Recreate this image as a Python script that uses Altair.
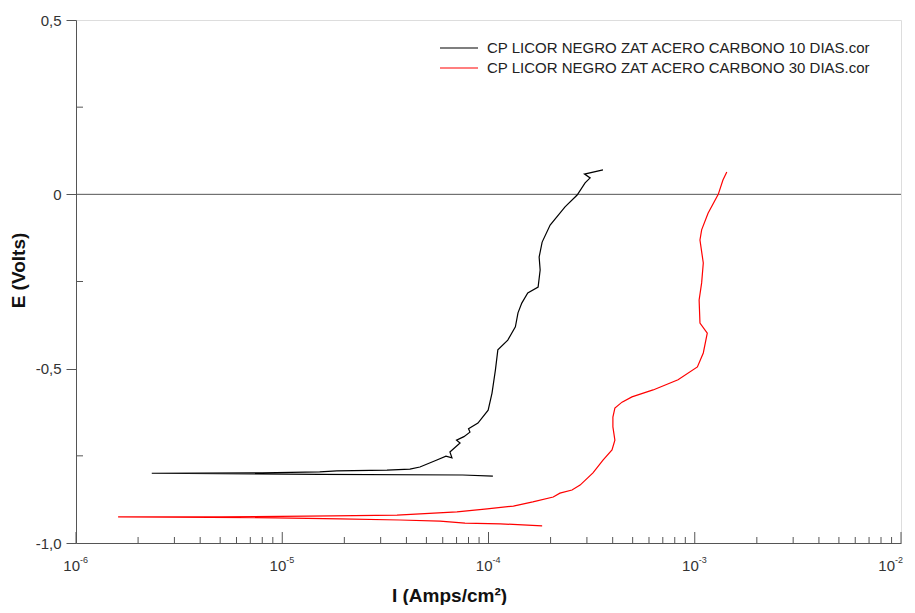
import altair as alt
import pandas as pd

# ---- data ----
series_names = ["CP LICOR NEGRO ZAT ACERO CARBONO 10 DIAS.cor",
                "CP LICOR NEGRO ZAT ACERO CARBONO 30 DIAS.cor"]
series_colors = ["#000000", "#ff0000"]

I10 = [1.05e-4, 7.5e-5, 1.52e-5, 2.33e-6, 7.98e-6, 1.52e-5, 1.84e-5, 3.22e-5,
       4.16e-5, 4.65e-5, 5.62e-5, 6.22e-5, 6.65e-5, 6.50e-5, 7.28e-5, 7.0e-5,
       7.6e-5, 8.13e-5, 8.0e-5, 8.89e-5, 9.96e-5, 1.04e-4, 1.08e-4, 1.11e-4,
       1.24e-4, 1.35e-4, 1.39e-4, 1.45e-4, 1.55e-4, 1.74e-4, 1.78e-4, 1.76e-4,
       1.82e-4, 1.99e-4, 2.35e-4, 2.69e-4, 2.94e-4, 3.11e-4, 2.92e-4, 3.59e-4]
E10 = [-0.808, -0.805, -0.803, -0.800, -0.799, -0.796, -0.793, -0.791,
       -0.788, -0.782, -0.762, -0.751, -0.756, -0.739, -0.713, -0.705,
       -0.695, -0.682, -0.672, -0.656, -0.619, -0.570, -0.504, -0.446,
       -0.418, -0.380, -0.340, -0.312, -0.283, -0.266, -0.217, -0.180,
       -0.137, -0.088, -0.036, -0.002, 0.033, 0.047, 0.058, 0.070]

I30 = [1.82e-4, 1.14e-4, 7.69e-5, 5.82e-5, 3.72e-5, 1.91e-5, 9.23e-6, 1.60e-6,
       4.99e-6, 1.76e-5, 3.60e-5, 7.03e-5, 9.85e-5, 1.32e-4, 1.64e-4, 2.06e-4,
       2.22e-4, 2.54e-4, 2.78e-4, 3.21e-4, 3.59e-4, 3.97e-4, 4.10e-4, 4.01e-4,
       4.01e-4, 4.10e-4, 4.44e-4, 4.96e-4, 6.28e-4, 8.30e-4, 1.03e-3, 1.10e-3,
       1.15e-3, 1.06e-3, 1.05e-3, 1.08e-3, 1.10e-3, 1.06e-3, 1.08e-3, 1.16e-3,
       1.30e-3, 1.37e-3, 1.43e-3]
E30 = [-0.951, -0.945, -0.943, -0.937, -0.934, -0.931, -0.928, -0.925,
       -0.925, -0.922, -0.920, -0.911, -0.902, -0.894, -0.882, -0.868,
       -0.857, -0.848, -0.834, -0.799, -0.762, -0.733, -0.705, -0.667,
       -0.639, -0.613, -0.596, -0.581, -0.561, -0.532, -0.495, -0.455,
       -0.398, -0.369, -0.303, -0.254, -0.197, -0.131, -0.102, -0.054,
       0.0, 0.041, 0.064]

x_decades = [1e-6, 1e-5, 1e-4, 1e-3, 1e-2]
x_exponents = ["-6", "-5", "-4", "-3", "-2"]
x_minor = [m * d for d in [1e-6, 1e-5, 1e-4, 1e-3] for m in range(2, 10)]
y_major = [-1.0, -0.5, 0.0, 0.5]
y_minor = [-0.75, -0.25, 0.25]

W, H = 825, 523
AXIS_COLOR = "#555555"
FONT = "Liberation Sans"

rows = []
for name, xs, ys in [(series_names[0], I10, E10), (series_names[1], I30, E30)]:
    for k, (i, e) in enumerate(zip(xs, ys)):
        rows.append({"I": i, "E": e, "serie": name, "idx": k})
df = pd.DataFrame(rows)

xscale = alt.Scale(type="log", domain=[1e-6, 1e-2], nice=False)
yscale = alt.Scale(domain=[-1.0, 0.5], nice=False, zero=False)

x_axis = alt.Axis(ticks=False, labels=False, grid=False, domainColor=AXIS_COLOR,
                  title="I (Amps/cm²)", titleFont=FONT, titleFontSize=19,
                  titleFontWeight="bold", titleColor="#111111",
                  titleX=373, titleY=52, titleBaseline="middle")
y_axis = alt.Axis(values=y_major, grid=False, tickSize=10, tickColor=AXIS_COLOR,
                  domainColor=AXIS_COLOR, labelFont=FONT, labelFontSize=15,
                  labelColor="#333333", labelPadding=5,
                  labelExpr="datum.value == 0 ? '0' : replace(replace(format(datum.value, '.1f'), '.', ','), '\u2212', '-')",
                  title="E (Volts)", titleFont=FONT, titleFontSize=19,
                  titleFontWeight="bold", titleColor="#111111",
                  titleX=-58, titleY=250, titleBaseline="middle")

lines = alt.Chart(df).mark_line(strokeWidth=1.2).encode(
    x=alt.X("I:Q", scale=xscale, axis=x_axis),
    y=alt.Y("E:Q", scale=yscale, axis=y_axis),
    color=alt.Color("serie:N", scale=alt.Scale(domain=series_names, range=series_colors), legend=None),
    order="idx:Q",
    detail="serie:N",
)

zero_line = alt.Chart(pd.DataFrame({"E": [0.0]})).mark_rule(color=AXIS_COLOR, strokeWidth=1).encode(
    y=alt.Y("E:Q", scale=yscale)
)

dec_df = pd.DataFrame({"I": x_decades, "exp": x_exponents})
minor_df = pd.DataFrame({"I": x_minor})

dec_ticks = alt.Chart(dec_df).mark_rule(color=AXIS_COLOR).encode(
    x=alt.X("I:Q", scale=xscale), y=alt.value(H), y2=alt.value(H - 11))
minor_ticks = alt.Chart(minor_df).mark_rule(color=AXIS_COLOR).encode(
    x=alt.X("I:Q", scale=xscale), y=alt.value(H), y2=alt.value(H - 6))
y_minor_ticks = alt.Chart(pd.DataFrame({"E": y_minor})).mark_rule(color=AXIS_COLOR).encode(
    y=alt.Y("E:Q", scale=yscale), x=alt.value(0), x2=alt.value(7))


def tick_labels(data, shift):
    base = alt.Chart(data).mark_text(align="right", baseline="middle", dx=4 + shift, font=FONT,
                                     fontSize=15, color="#333333").encode(
        x=alt.X("I:Q", scale=xscale), y=alt.value(H + 23), text=alt.value("10"))
    expo = alt.Chart(data).mark_text(align="left", baseline="middle", dx=4 + shift, font=FONT,
                                     fontSize=9, color="#333333").encode(
        x=alt.X("I:Q", scale=xscale), y=alt.value(H + 17), text="exp:N")
    return [base, expo]


label_layers = tick_labels(dec_df.iloc[:-1], 0) + tick_labels(dec_df.iloc[-1:], -10)

legend_layers = []
for k, (name, col) in enumerate(zip(series_names, series_colors)):
    yy = 28 + 20 * k
    ldf = pd.DataFrame({"serie": [name]})
    legend_layers.append(alt.Chart(ldf).mark_rule(color=col, strokeWidth=1.2).encode(
        x=alt.value(364), x2=alt.value(402), y=alt.value(yy)))
    legend_layers.append(alt.Chart(ldf).mark_text(align="left", baseline="middle", font=FONT,
                                                  fontSize=15, color="#222222").encode(
        x=alt.value(411), y=alt.value(yy), text="serie:N"))

chart = alt.layer(zero_line, lines, dec_ticks, minor_ticks, y_minor_ticks, *label_layers,
                  *legend_layers).properties(
    width=W, height=H,
    autosize=alt.AutoSizeParams(type="none"),
    padding={"left": 68, "top": 12, "right": 6, "bottom": 62},
).configure_view(stroke=None).configure(background="white")

chart.save("out.html", embed_options={"renderer": "svg", "actions": False})
